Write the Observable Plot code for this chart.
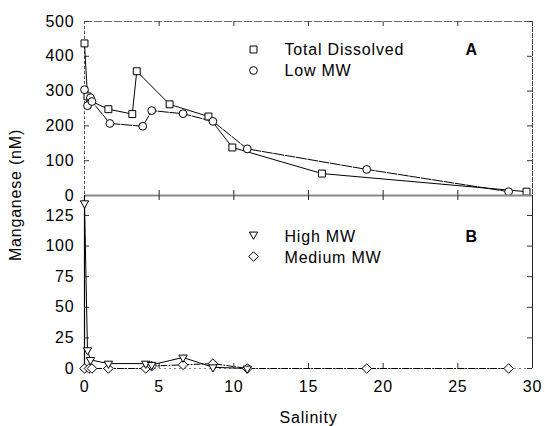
<!DOCTYPE html>
<html><head><meta charset="utf-8">
<script src="https://cdn.jsdelivr.net/npm/d3@7"></script>
<script src="https://cdn.jsdelivr.net/npm/@observablehq/plot@0.6"></script>
<style>
body{margin:0;background:#fff;}
#wrap{position:relative;width:545px;height:426px;font-family:"Liberation Sans",Arial,sans-serif;}
#wrap svg{display:block;}
#wrap svg text{letter-spacing:0.8px;}
#ylab{position:absolute;left:16px;top:195px;transform:translate(-50%,-50%) rotate(-90deg);font-size:16px;white-space:nowrap;letter-spacing:0.8px;color:#000;}
</style></head><body><div id="wrap"><div id="ylab">Manganese (nM)</div></div>
<script>
// ---- data ----
const salTotal = [0, 0.2, 0.4, 1.6, 3.2, 3.5, 5.7, 8.3, 9.9, 15.9, 29.6];
const totalDissolved = [437, 285, 272, 248, 234, 357, 262, 227, 138, 63, 11];
const salLow = [0, 0.2, 0.4, 0.5, 1.7, 3.9, 4.5, 6.6, 8.6, 10.9, 18.9, 28.4];
const lowMW = [304, 258, 281, 270, 207, 199, 244, 235, 213, 134, 75, 11];
const salHigh = [0, 0.2, 0.4, 1.6, 4.1, 4.5, 6.6, 8.6, 10.9];
const highMW = [135, 15, 7, 4, 4, 3, 9, 1, 0];
const salMed = [0, 0.3, 0.5, 1.6, 4.1, 4.5, 6.6, 8.6, 10.9, 18.9, 28.4];
const mediumMW = [0, 0, 0, 0, 0, 2, 3, 4, 0, 0, 0];

const xTicks = [0, 5, 10, 15, 20, 25, 30];
const xInnerTicks = [5, 10, 15, 20, 25];
const yTicksA = [0, 100, 200, 300, 400, 500];
const yTicksB = [0, 25, 50, 75, 100, 125];
const legendA = ["Total Dissolved", "Low MW"];
const legendB = ["High MW", "Medium MW"];

// ---- build tables ----
const rows = (xs, ys) => xs.map((x, i) => ({x, y: ys[i]}));
const dTotal = rows(salTotal, totalDissolved);
const dLow = rows(salLow, lowMW);
const dHigh = rows(salHigh, highMW);
const dMed = rows(salMed, mediumMW);

const W = 545, ML = 84, MR = 13;
const xDomain = [0, 30];
const yDomainA = [0, 500];
const yDomainB = [0, 141.3];
const font = '"Liberation Sans", Arial, sans-serif';
const plotW = W - ML - MR;
const tx = 5 * (xDomain[1] - xDomain[0]) / plotW;
const tyA = 5 * (yDomainA[1] - yDomainA[0]) / 174;
const tyB = 5 * (yDomainB[1] - yDomainB[0]) / 173;
const sym = {stroke: "#000", fill: "#fff", strokeWidth: 1, r: 3.9};
const tri = {...sym, symbol: "triangle", rotate: 180, r: 3.1};
const dia = {...sym, symbol: "diamond2", r: 4.3};

const A = Plot.plot({
  width: W, height: 195, marginTop: 21, marginBottom: 0, marginLeft: ML, marginRight: MR,
  x: {domain: xDomain, axis: null},
  y: {domain: yDomainA},
  style: {fontFamily: font, fontSize: "16px", color: "#000", background: "transparent", overflow: "visible"},
  marks: [
    Plot.axisY(yTicksA, {tickSize: 0, tickPadding: 10, label: null}),
    Plot.ruleX([xDomain[0]], {stroke: "#555", strokeDasharray: "3,2"}),
    Plot.ruleX([xDomain[1]], {stroke: "#444", strokeDasharray: "5,1"}),
    Plot.ruleY([yDomainA[1]], {stroke: "#666", strokeDasharray: "8,2"}),
    Plot.ruleY(yTicksA, {y: d => d, x1: xDomain[0], x2: xDomain[0] + tx, stroke: "#333"}),
    Plot.ruleY(yTicksA, {y: d => d, x1: xDomain[1] - tx, x2: xDomain[1], stroke: "#333"}),
    Plot.ruleX(xInnerTicks, {x: d => d, y1: yDomainA[1] - tyA, y2: yDomainA[1], stroke: "#333"}),
    Plot.ruleX(xInnerTicks, {x: d => d, y1: 0, y2: tyA, stroke: "#222"}),
    Plot.line(dTotal, {x: "x", y: "y", stroke: "#000", strokeWidth: 1}),
    Plot.line(dLow, {x: "x", y: "y", stroke: "#000", strokeWidth: 1, strokeDasharray: "10,1.5"}),
    Plot.dot(dTotal, {x: "x", y: "y", symbol: "square", ...sym}),
    Plot.dot(dLow, {x: "x", y: "y", symbol: "circle", ...sym}),
    Plot.dot([legendA[0]], {frameAnchor: "top-left", dx: 169, dy: 28, symbol: "square", ...sym}),
    Plot.dot([legendA[1]], {frameAnchor: "top-left", dx: 169, dy: 49, symbol: "circle", ...sym}),
    Plot.text([legendA[0]], {frameAnchor: "top-left", dx: 200, dy: 28, textAnchor: "start", lineAnchor: "middle", fill: "#000"}),
    Plot.text([legendA[1]], {frameAnchor: "top-left", dx: 200, dy: 49, textAnchor: "start", lineAnchor: "middle", fill: "#000"}),
    Plot.text(["A"], {frameAnchor: "top-left", dx: 381, dy: 28, textAnchor: "start", lineAnchor: "middle", fontWeight: "bold", fill: "#000"})
  ]
});

const B = Plot.plot({
  width: W, height: 231, marginTop: 0, marginBottom: 58, marginLeft: ML, marginRight: MR,
  x: {domain: xDomain},
  y: {domain: yDomainB},
  style: {fontFamily: font, fontSize: "16px", color: "#000", background: "transparent", overflow: "visible"},
  marks: [
    Plot.axisY(yTicksB, {tickSize: 0, tickPadding: 10, label: null}),
    Plot.axisX(xTicks, {tickSize: 0, tickPadding: 12, label: null}),
    Plot.ruleY([yDomainB[1]], {stroke: "#888", strokeWidth: 2.2}),
    Plot.ruleX([xDomain[0]], {stroke: "#000", strokeWidth: 1.2}),
    Plot.ruleX([xDomain[1]], {stroke: "#222"}),
    Plot.ruleY([0], {stroke: "#888", strokeDasharray: "2,3"}),
    Plot.ruleY(yTicksB, {y: d => d, x1: xDomain[0], x2: xDomain[0] + tx, stroke: "#333"}),
    Plot.ruleY(yTicksB, {y: d => d, x1: xDomain[1] - tx, x2: xDomain[1], stroke: "#333"}),
    Plot.ruleX(xInnerTicks, {x: d => d, y1: yDomainB[1] - tyB, y2: yDomainB[1], stroke: "#222"}),
    Plot.ruleX(xInnerTicks, {x: d => d, y1: 0, y2: tyB, stroke: "#333"}),
    Plot.line(dHigh, {x: "x", y: "y", stroke: "#000", strokeWidth: 1}),
    Plot.line(dMed, {x: "x", y: "y", stroke: "#000", strokeWidth: 1, strokeDasharray: "6,2,1,2"}),
    Plot.dot(dMed, {x: "x", y: "y", ...dia}),
    Plot.dot(dHigh, {x: "x", y: "y", ...tri}),
    Plot.dot([legendB[0]], {frameAnchor: "top-left", dx: 169, dy: 39, ...tri}),
    Plot.dot([legendB[1]], {frameAnchor: "top-left", dx: 169, dy: 61, ...dia}),
    Plot.text([legendB[0]], {frameAnchor: "top-left", dx: 200, dy: 41, textAnchor: "start", lineAnchor: "middle", fill: "#000"}),
    Plot.text([legendB[1]], {frameAnchor: "top-left", dx: 200, dy: 62, textAnchor: "start", lineAnchor: "middle", fill: "#000"}),
    Plot.text(["B"], {frameAnchor: "top-left", dx: 381, dy: 41, textAnchor: "start", lineAnchor: "middle", fontWeight: "bold", fill: "#000"}),
    Plot.text(["Salinity"], {frameAnchor: "bottom", dy: 49, lineAnchor: "middle", fill: "#000"})
  ]
});

const wrap = document.getElementById("wrap");
wrap.appendChild(A);
wrap.appendChild(B);
</script>
</body></html>
